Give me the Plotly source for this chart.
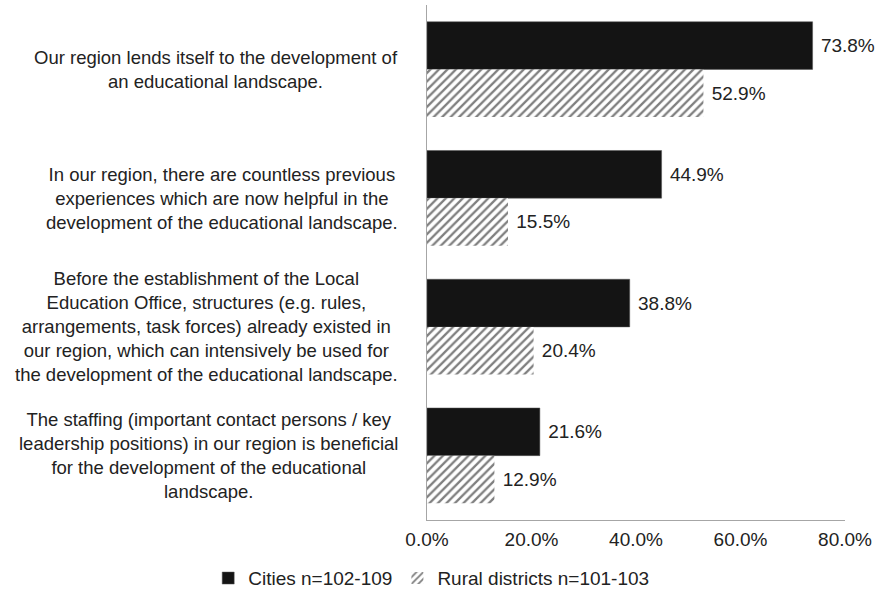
import plotly.graph_objects as go

statements = [
    "Our region lends itself to the development of<br>an educational landscape.",
    "In our region, there are countless previous<br>experiences which are now helpful in the<br>development of the educational landscape.",
    "Before the establishment of the Local<br>Education Office, structures (e.g. rules,<br>arrangements, task forces) already existed in<br>our region, which can intensively be used for<br>the development of the educational landscape.",
    "The staffing (important contact persons / key<br>leadership positions) in our region is beneficial<br>for the development of the educational<br>landscape.",
]
keys = ["s1", "s2", "s3", "s4"]
cities = [73.8, 44.9, 38.8, 21.6]
rural = [52.9, 15.5, 20.4, 12.9]
x_ticks = [0, 20, 40, 60, 80]

FONT = "Liberation Sans, Arial, Helvetica, sans-serif"
TXT = "#222222"
FS = 19

W, H = 880, 590
R_MARGIN = 35
PLOT_LEFT = 427          # pixel where the value axis starts
LABEL_RIGHT = 400        # right edge of the statement texts
PAPER_W = W - R_MARGIN

fig = go.Figure()
fig.add_trace(go.Bar(
    y=keys, x=cities, orientation="h", name="Cities n=102-109",
    marker=dict(color="#141414", line=dict(color="#555555", width=0.5)),
    text=cities, texttemplate=" %{x:.1f}%", textposition="outside",
    textfont=dict(size=FS, color=TXT, family=FONT), cliponaxis=False,
))
fig.add_trace(go.Bar(
    y=keys, x=rural, orientation="h", name="Rural districts n=101-103",
    marker=dict(color="white", line=dict(width=0),
                pattern=dict(shape="/", fgcolor="#000000", bgcolor="white",
                             size=6, solidity=0.38)),
    text=rural, texttemplate=" %{x:.1f}%", textposition="outside",
    textfont=dict(size=FS, color=TXT, family=FONT), cliponaxis=False,
))

for k, s in zip(keys, statements):
    fig.add_annotation(
        x=LABEL_RIGHT / PAPER_W, xref="paper", y=k, yref="y", text=s,
        showarrow=False, xanchor="right", yanchor="middle", align="center",
        font=dict(size=18.5, color=TXT, family=FONT),
    )

fig.update_layout(
    width=W, height=H,
    margin=dict(l=0, r=R_MARGIN, t=5, b=70, autoexpand=False),
    paper_bgcolor="white", plot_bgcolor="white",
    barmode="group", bargap=0.26, bargroupgap=0,
    font=dict(family=FONT, size=FS, color=TXT),
    showlegend=True,
    legend=dict(orientation="h", xref="container", yref="container",
                x=0.49, xanchor="center", y=0.02, yanchor="middle",
                font=dict(size=FS, color=TXT), itemwidth=30,
                traceorder="normal"),
    xaxis=dict(domain=[PLOT_LEFT / PAPER_W, 1], range=[0, 80],
               tickvals=x_ticks, ticktext=[f"{v:.1f}%" for v in x_ticks],
               showgrid=False, zeroline=False, showline=True,
               linecolor="#a6a6a6", linewidth=1, ticks="",
               tickfont=dict(size=FS, color=TXT), ticklabelstandoff=2),
    yaxis=dict(categoryorder="array", categoryarray=keys, autorange="reversed",
               showticklabels=False, showgrid=False, zeroline=False,
               showline=True, linecolor="#a6a6a6", linewidth=1, ticks=""),
)

fig.write_html("out.html")
